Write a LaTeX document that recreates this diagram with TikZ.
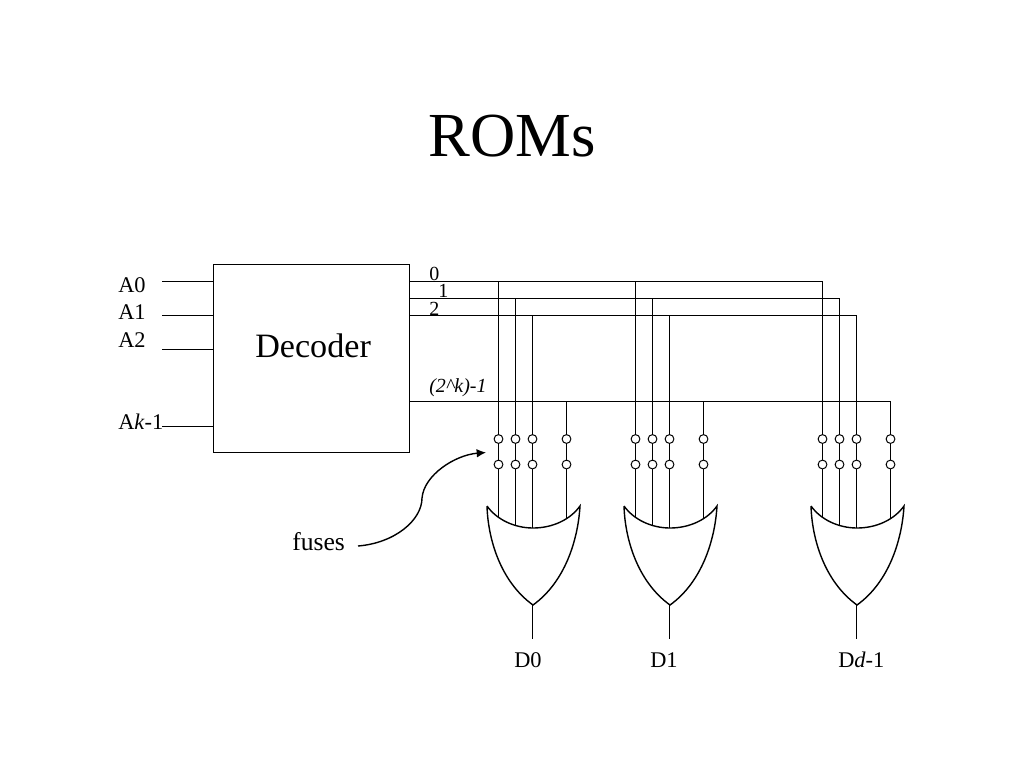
\documentclass[tikz,border=0pt]{standalone}
\usepackage{fontspec}
\setmainfont{Liberation Serif}
\usetikzlibrary{arrows.meta}
\tikzset{
    wire/.style={line width=0.8pt},
    curve/.style={line width=1.05pt},
    fuse/.style={draw, circle, fill=white, line width=0.75pt, inner sep=0pt, minimum size=6.6pt},
    txt/.style={inner sep=0pt, anchor=base west, font=\fontsize{16.8}{20}\selectfont},
    smalltxt/.style={txt, font=\fontsize{15}{18}\selectfont}
}
\begin{document}
\begin{tikzpicture}[x=0.75pt, y=-0.75pt]
    \useasboundingbox (0,0) rectangle (1024,768);
    % Title
    \node[inner sep=0pt, anchor=base, font=\fontsize{47}{52}\selectfont] (title) at (512,156) {ROMs};
    % Decoder
    \node[draw, wire, minimum width=147pt, minimum height=141pt, inner sep=0pt] (decoder) at (311.5,358.5) {};
    \node[txt, font=\fontsize{25.6}{30}\selectfont] (decodername) at (255,357) {Decoder};
    % Inputs
    \foreach \i/\y/\ty/\name in {0/281.5/292/A0, 1/315.5/319/A1, 2/349.5/347/A2, 3/426.5/429/A\textit{k}-1} {
        \node[txt] (inlabel\i) at (118,\ty) {\name};
        \coordinate (in\i) at (162,\y);
        \draw[wire] (in\i) -- (in\i -| decoder.west);
    }
    % Row labels
    \node[smalltxt] (rowlabel0) at (429,280) {0};
    \node[smalltxt] (rowlabel1) at (438,297) {1};
    \node[smalltxt] (rowlabel2) at (429,315) {2};
    \node[smalltxt, font=\fontsize{15}{18}\selectfont\itshape] (rowlabel3) at (429,392) {(2\textasciicircum k)-1};
    % Rows leaving the decoder
    \coordinate (row0) at (409.5,281.5);
    \coordinate (row1) at (409.5,298.5);
    \coordinate (row2) at (409.5,315.5);
    \coordinate (row3) at (409.5,401.5);
    % Gates
    \foreach \g/\dx/\name in {0/0/D0, 1/137/D1, 2/324/D\textit{d}-1} {
        \begin{scope}[shift={(\dx,0)}]
            \draw[curve] (487,506) .. controls (497,520) and (515,528) .. (533,528)
                .. controls (552,528) and (570,520) .. (580,506)
                .. controls (578,540) and (565,582) .. (533,605)
                .. controls (501,582) and (488,540) .. (487,506);
            \coordinate (gate\g) at (532.5,605);
            \coordinate (out\g) at (532.5,639);
            \draw[wire] (gate\g) -- (out\g);
            % Fuses
            \foreach \r/\x/\e in {0/498.5/518, 1/515.5/525, 2/532.5/528, 3/566.5/518} {
                \node[fuse] (fuse\g\r a) at (\x,439) {};
                \node[fuse] (fuse\g\r b) at (\x,464.5) {};
                \coordinate (end\g\r) at (\x,\e);
                \draw[wire] (fuse\g\r a.north) -- (fuse\g\r a.north |- row\r);
                \draw[wire] (fuse\g\r a) -- (fuse\g\r b);
                \draw[wire] (fuse\g\r b) -- (end\g\r);
            }
        \end{scope}
    }
    \node[txt] (dlabel0) at (514,667) {D0};
    \node[txt] (dlabel1) at (650,667) {D1};
    \node[txt] (dlabel2) at (838,667) {D\textit{d}-1};
    \foreach \r in {0,1,2,3} {
        \draw[wire] (row\r) -- (row\r -| fuse2\r a.north) -- (fuse2\r a.north);
    }
    % Fuses callout
    \node[txt, font=\fontsize{19.2}{22}\selectfont] (fuses) at (292,550) {fuses};
    \coordinate (fusestail) at (358,546);
    \coordinate (fusesmid) at (422,498);
    \coordinate (fuseshead) at (486,452.5);
    \draw[curve, -{Latex[length=7pt, width=6.5pt]}] (fusestail) .. controls (395,543) and (422,520) .. (fusesmid)
        .. controls (424,475) and (455,455) .. (fuseshead);
\end{tikzpicture}
\end{document}
